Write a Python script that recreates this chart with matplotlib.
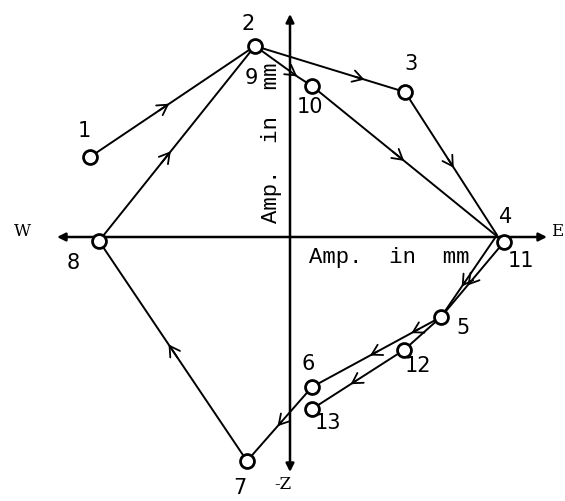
import matplotlib.pyplot as plt

# Particle motion points (amplitude in mm), east-west vs vertical
labels = ["1", "2", "3", "4", "5", "6", "7", "8", "9", "10", "11", "12", "13"]
ew = [-20.0, -3.5, 11.5, 20.7, 15.1, 2.2, -4.3, -19.1, 0.8, 2.2, 21.4, 11.4, 2.2]
z = [8.0, 19.1, 14.5, 0.2, -8.0, -15.0, -22.4, -0.4, 16.0, 15.1, -0.5, -11.3, -17.2]

# paths traced through the points (by label) and where the direction arrows sit
first_path = ["1", "2", "3", "4", "5", "6", "7", "8", "2"]
second_path = ["2", "9", "10", "11", "5", "12", "13"]
circled = ["1", "2", "3", "5", "6", "7", "8", "10", "11", "12", "13"]

# label offsets in pixels from each point
label_off = {
    "1": (-6, 27), "2": (-7, 23), "3": (6, 29), "4": (9, 19), "5": (22, -10),
    "6": (-4, 24), "7": (-7, -26), "8": (-26, -21), "9": (-47, 0),
    "10": (-2, -20), "11": (17, -18), "12": (14, -15), "13": (16, -13),
}

pts = {k: (x, y) for k, x, y in zip(labels, ew, z)}

fig = plt.figure(figsize=(5.65, 5.02), dpi=100)
ax = fig.add_axes([0, 0, 1, 1])
ax.set_xlim(-29.0, 27.5)
ax.set_ylim(-26.4, 23.8)
ax.axis("off")

# axes with arrow tips
ax.annotate("", xy=(25.7, 0), xytext=(-23.3, 0),
            arrowprops=dict(arrowstyle="<|-|>", lw=1.8, color="black",
                            mutation_scale=12, shrinkA=0, shrinkB=0))
ax.annotate("", xy=(0, 22.3), xytext=(0, -23.5),
            arrowprops=dict(arrowstyle="<|-|>", lw=1.8, color="black",
                            mutation_scale=12, shrinkA=0, shrinkB=0))

ax.text(-26.8, 0.6, "W", fontsize=12, family="DejaVu Serif", ha="center", va="center")
ax.text(26.7, 0.6, "E", fontsize=12, family="DejaVu Serif", ha="center", va="center")
ax.text(-0.7, -24.7, "-Z", fontsize=12, family="DejaVu Serif", ha="center", va="center")
ax.text(9.9, -2.0, "Amp.  in  mm", fontsize=16, family="Liberation Mono",
        ha="center", va="center")
ax.text(-1.9, 9.5, "Amp.  in  mm", fontsize=16, family="Liberation Mono",
        ha="center", va="center", rotation=90)


def mid_arrow(p, q, frac=0.5):
    x0, y0 = p
    x1, y1 = q
    a = (x0 + (x1 - x0) * (frac - 0.03), y0 + (y1 - y0) * (frac - 0.03))
    b = (x0 + (x1 - x0) * (frac + 0.03), y0 + (y1 - y0) * (frac + 0.03))
    ax.annotate("", xy=b, xytext=a,
                arrowprops=dict(arrowstyle="->,head_length=0.6,head_width=0.35",
                                lw=1.3, color="black", mutation_scale=12,
                                shrinkA=0, shrinkB=0))


for path in [first_path, second_path]:
    ax.plot([pts[k][0] for k in path], [pts[k][1] for k in path],
            color="black", lw=1.4, zorder=2)

# direction arrows along the segments
for a, b, f in [("1", "2", 0.45), ("8", "2", 0.43), ("2", "3", 0.7),
                ("3", "4", 0.5), ("10", "11", 0.45), ("4", "5", 0.6),
                ("11", "5", 0.55), ("5", "6", 0.2), ("5", "6", 0.52),
                ("12", "13", 0.55), ("6", "7", 0.5), ("7", "8", 0.5),
                ("2", "9", 0.95)]:
    mid_arrow(pts[a], pts[b], f)

ax.plot([pts[k][0] for k in circled], [pts[k][1] for k in circled],
        "o", ls="none", ms=10, mfc="white", mec="black", mew=2, zorder=3)

for k in labels:
    ax.annotate(k, pts[k], xytext=label_off[k], textcoords="offset pixels",
                fontsize=15, ha="center", va="center")

fig.savefig("out.png", dpi=100)
